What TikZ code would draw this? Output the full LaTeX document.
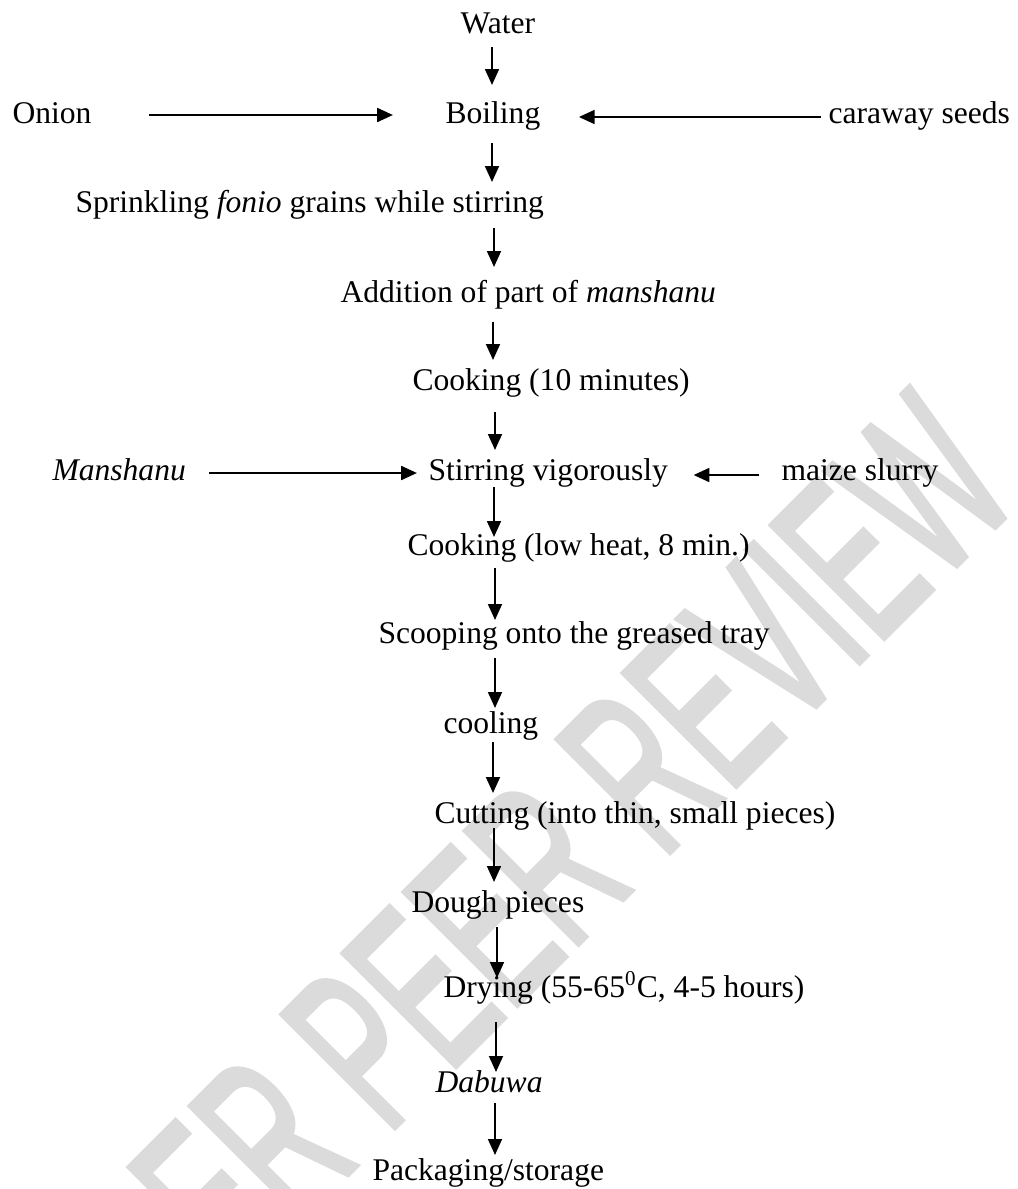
\documentclass[tikz,border=0pt]{standalone}
\usepackage{graphicx}
\usepackage{fontspec}
\setmainfont{Liberation Serif}
\newfontfamily\wmfont[FakeBold=2.5]{Liberation Sans}
\usetikzlibrary{arrows.meta,calc}
\tikzset{
  lbl/.style={anchor=base west, inner sep=0pt, font=\fontsize{12pt}{14pt}\selectfont},
  varr/.style={-{Triangle[length=6pt,width=5.2pt]}, line width=0.8pt},
  harr/.style={-{Triangle[length=6pt,width=5.2pt]}, line width=1pt},
  wm/.style={anchor=base east, inner sep=0pt, rotate=45, text=gray!28, font=\wmfont\fontsize{88pt}{88pt}\selectfont}
}
\newcommand\vflow[5]{\draw[varr] ($(#1.base -| #2)+(0,#3)$) -- ($(#4.base -| #2)+(0,#5)$);}
\begin{document}
\begin{tikzpicture}[x=0.38pt,y=-0.38pt]
\useasboundingbox (0,0) rectangle (1018,1189);
\begin{scope}
\clip (0,0) rectangle (1018,1189);
\node[wm] (wmark) at (1024,498) {\scalebox{0.56}[1]{UNDER PEER REVIEW}};
\end{scope}
% column coordinates
\coordinate (k492) at (492,0);
\coordinate (k493) at (493,0);
\coordinate (k494) at (494,0);
\coordinate (k495) at (495,0);
\coordinate (k496) at (496,0);
\coordinate (k497) at (497,0);
% nodes
\node[lbl] (water) at (460,33) {Water};
\node[lbl] (onion) at (12,123) {Onion};
\node[lbl] (boil) at (445,123) {Boiling};
\node[lbl] (caraway) at (828,123) {caraway seeds};
\node[lbl] (sprinkle) at (75,212) {Sprinkling \textit{fonio} grains while stirring};
\node[lbl] (addition) at (340,302) {Addition of part of \textit{manshanu}};
\node[lbl] (cook1) at (412,390) {Cooking (10 minutes)};
\node[lbl] (mansh) at (52,480) {\textit{Manshanu}};
\node[lbl] (stir) at (428,480) {Stirring vigorously};
\node[lbl] (maize) at (781,480) {maize slurry};
\node[lbl] (cook2) at (407,555) {Cooking (low heat, 8 min.)};
\node[lbl] (scoop) at (378,643) {Scooping onto the greased tray};
\node[lbl] (cool) at (443,733) {cooling};
\node[lbl] (cut) at (434,823) {Cutting (into thin, small pieces)};
\node[lbl] (dough) at (411,912) {Dough pieces};
\node[lbl] (dry) at (443,997) {Drying (55-65\textsuperscript{0}C, 4-5 hours)};
\node[lbl] (dabuwa) at (435,1092) {\textit{Dabuwa}};
\node[lbl] (pack) at (372,1180) {Packaging/storage};
% horizontal inputs
\draw[harr] ($(onion.base east)+(57,-8)$) -- ($(boil.base west)+(-52,-8)$);
\draw[harr] ($(caraway.base west)+(-7,-6)$) -- ($(boil.base east)+(38,-6)$);
\draw[harr] ($(mansh.base east)+(23,-7)$) -- ($(stir.base west)+(-11,-7)$);
\draw[harr] ($(maize.base west)+(-22,-5)$) -- ($(stir.base east)+(25,-5)$);
% main flow
\vflow{water}{k492}{14}{boil}{-38}
\vflow{boil}{k492}{20}{sprinkle}{-30}
\vflow{sprinkle}{k494}{16}{addition}{-35}
\vflow{addition}{k493}{20}{cook1}{-30}
\vflow{cook1}{k495}{22}{stir}{-30}
\vflow{stir}{k494}{7}{cook2}{-18}
\vflow{cook2}{k495}{13}{scoop}{-23}
\vflow{scoop}{k495}{15}{cool}{-25}
\vflow{cool}{k493}{9}{cut}{-30}
\vflow{cut}{k494}{5}{dough}{-30}
\vflow{dough}{k497}{15}{dry}{-19}
\vflow{dry}{k496}{25}{dabuwa}{-20}
\vflow{dabuwa}{k495}{11}{pack}{-25}
\end{tikzpicture}
\end{document}
